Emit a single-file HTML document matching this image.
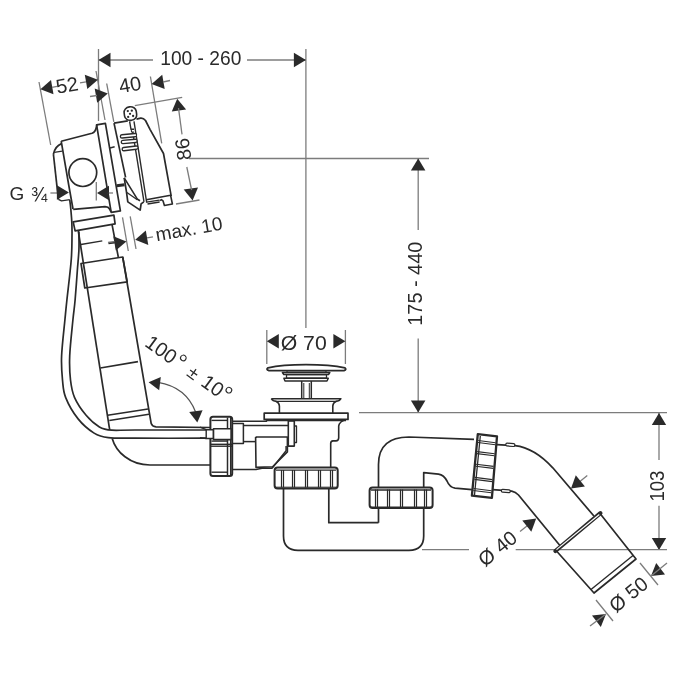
<!DOCTYPE html>
<html><head><meta charset="utf-8"><style>
html,body{margin:0;padding:0;background:#fff;width:675px;height:675px;overflow:hidden}
svg{display:block;will-change:transform}
text{font-family:"Liberation Sans",sans-serif;fill:#2a2a2a;stroke:none}
</style></head><body>
<svg width="675" height="675" viewBox="0 0 675 675">
<line x1="98.5" y1="49.0" x2="98.5" y2="121.0" stroke="#7c7c7c" stroke-width="1.3"/>
<line x1="305.9" y1="49.0" x2="305.9" y2="328.0" stroke="#7c7c7c" stroke-width="1.3"/>
<line x1="98.5" y1="60.0" x2="153.0" y2="60.0" stroke="#7c7c7c" stroke-width="1.3"/>
<line x1="247.0" y1="60.0" x2="305.9" y2="60.0" stroke="#7c7c7c" stroke-width="1.3"/>
<polygon points="98.5,60.0 110.5,52.8 110.5,67.2" fill="#2a2a2a"/>
<polygon points="305.9,60.0 293.9,67.2 293.9,52.8" fill="#2a2a2a"/>
<text x="200.8" y="57.3" font-size="20.5" text-anchor="middle" dominant-baseline="central" textLength="81" lengthAdjust="spacingAndGlyphs">100 - 260</text>
<line x1="39.0" y1="82.0" x2="50.7" y2="145.0" stroke="#7c7c7c" stroke-width="1.3"/>
<line x1="96.0" y1="71.0" x2="105.0" y2="120.0" stroke="#7c7c7c" stroke-width="1.3"/>
<line x1="106.7" y1="83.5" x2="113.8" y2="121.8" stroke="#7c7c7c" stroke-width="1.3"/>
<line x1="150.4" y1="76.5" x2="161.7" y2="143.3" stroke="#7c7c7c" stroke-width="1.3"/>
<polygon points="40.4,89.2 51.0,80.0 53.5,94.3" fill="#2a2a2a"/>
<polygon points="97.9,79.8 87.3,89.0 84.8,74.7" fill="#2a2a2a"/>
<line x1="52.0" y1="87.3" x2="57.0" y2="86.4" stroke="#7c7c7c" stroke-width="1.3"/>
<line x1="80.0" y1="82.8" x2="86.0" y2="81.8" stroke="#7c7c7c" stroke-width="1.3"/>
<text x="67.0" y="85.0" font-size="20" text-anchor="middle" dominant-baseline="central" transform="rotate(-10 67.0 85.0)">52</text>
<polygon points="107.8,93.5 97.2,102.7 94.7,88.4" fill="#2a2a2a"/>
<line x1="90.0" y1="96.5" x2="97.0" y2="95.5" stroke="#7c7c7c" stroke-width="1.3"/>
<polygon points="151.6,84.0 162.2,74.8 164.7,89.1" fill="#2a2a2a"/>
<line x1="163.0" y1="82.0" x2="170.0" y2="80.5" stroke="#7c7c7c" stroke-width="1.3"/>
<text x="130.0" y="84.5" font-size="20" text-anchor="middle" dominant-baseline="central" transform="rotate(-10 130.0 84.5)">40</text>
<line x1="134.8" y1="105.6" x2="182.2" y2="97.4" stroke="#7c7c7c" stroke-width="1.3"/>
<line x1="176.0" y1="204.0" x2="199.5" y2="200.0" stroke="#7c7c7c" stroke-width="1.3"/>
<polygon points="177.2,98.7 186.1,109.5 171.8,111.6" fill="#2a2a2a"/>
<polygon points="192.6,200.4 183.7,189.6 198.0,187.5" fill="#2a2a2a"/>
<line x1="178.5" y1="108.0" x2="182.0" y2="134.4" stroke="#7c7c7c" stroke-width="1.3"/>
<line x1="186.8" y1="167.0" x2="191.6" y2="190.0" stroke="#7c7c7c" stroke-width="1.3"/>
<text x="183.0" y="149.3" font-size="20" text-anchor="middle" dominant-baseline="central" transform="rotate(-98 183.0 149.3)">86</text>
<line x1="189.0" y1="158.5" x2="429.0" y2="158.5" stroke="#7c7c7c" stroke-width="1.3"/>
<line x1="418.2" y1="158.6" x2="418.2" y2="230.0" stroke="#7c7c7c" stroke-width="1.3"/>
<line x1="418.2" y1="338.4" x2="418.2" y2="412.4" stroke="#7c7c7c" stroke-width="1.3"/>
<polygon points="418.2,158.6 425.4,170.6 410.9,170.6" fill="#2a2a2a"/>
<polygon points="418.2,412.4 410.9,400.4 425.4,400.4" fill="#2a2a2a"/>
<text x="414.6" y="283.7" font-size="21" text-anchor="middle" dominant-baseline="central" textLength="84" lengthAdjust="spacingAndGlyphs" transform="rotate(-90 414.6 283.7)">175 - 440</text>
<line x1="359.0" y1="412.6" x2="667.0" y2="412.6" stroke="#7c7c7c" stroke-width="1.3"/>
<line x1="266.8" y1="330.0" x2="266.8" y2="364.0" stroke="#7c7c7c" stroke-width="1.3"/>
<line x1="345.4" y1="330.0" x2="345.4" y2="364.0" stroke="#7c7c7c" stroke-width="1.3"/>
<polygon points="266.8,341.3 278.8,334.1 278.8,348.6" fill="#2a2a2a"/>
<polygon points="345.4,341.3 333.4,348.6 333.4,334.1" fill="#2a2a2a"/>
<text x="303.7" y="342.3" font-size="20.5" text-anchor="middle" dominant-baseline="central" textLength="46" lengthAdjust="spacingAndGlyphs">Ø 70</text>
<line x1="659.0" y1="413.0" x2="659.0" y2="460.0" stroke="#7c7c7c" stroke-width="1.3"/>
<line x1="659.0" y1="505.7" x2="659.0" y2="550.0" stroke="#7c7c7c" stroke-width="1.3"/>
<polygon points="659.0,413.0 666.2,425.0 651.8,425.0" fill="#2a2a2a"/>
<polygon points="659.0,550.0 651.8,538.0 666.2,538.0" fill="#2a2a2a"/>
<text x="656.5" y="486.1" font-size="21" text-anchor="middle" dominant-baseline="central" textLength="31" lengthAdjust="spacingAndGlyphs" transform="rotate(-90 656.5 486.1)">103</text>
<line x1="422.0" y1="549.6" x2="469.0" y2="549.6" stroke="#7c7c7c" stroke-width="1.3"/>
<line x1="515.7" y1="549.6" x2="667.0" y2="549.6" stroke="#7c7c7c" stroke-width="1.3"/>
<line x1="575.0" y1="485.5" x2="587.3" y2="475.4" stroke="#7c7c7c" stroke-width="1.3"/>
<polygon points="571.0,488.4 575.8,475.2 584.9,486.6" fill="#2a2a2a"/>
<line x1="532.0" y1="522.0" x2="520.0" y2="531.4" stroke="#7c7c7c" stroke-width="1.3"/>
<polygon points="536.2,518.6 531.3,531.7 522.3,520.4" fill="#2a2a2a"/>
<text x="497.5" y="548.5" font-size="20" text-anchor="middle" dominant-baseline="central" transform="rotate(-39 497.5 548.5)">Ø 40</text>
<line x1="640.0" y1="563.0" x2="658.0" y2="585.0" stroke="#7c7c7c" stroke-width="1.3"/>
<line x1="596.0" y1="600.0" x2="613.0" y2="621.0" stroke="#7c7c7c" stroke-width="1.3"/>
<polygon points="651.0,576.0 656.2,563.0 665.0,574.6" fill="#2a2a2a"/>
<line x1="651.0" y1="576.0" x2="667.0" y2="563.0" stroke="#7c7c7c" stroke-width="1.3"/>
<polygon points="606.0,614.0 600.8,627.0 592.0,615.4" fill="#2a2a2a"/>
<line x1="606.0" y1="614.0" x2="590.0" y2="626.0" stroke="#7c7c7c" stroke-width="1.3"/>
<text x="628.4" y="594.5" font-size="20" text-anchor="middle" dominant-baseline="central" transform="rotate(-39 628.4 594.5)">Ø 50</text>
<text x="16.9" y="193.6" font-size="19" text-anchor="middle" dominant-baseline="central">G</text>
<text x="39.1" y="193.6" font-size="19.5" text-anchor="middle" dominant-baseline="central">¾</text>
<line x1="50.4" y1="193.0" x2="60.0" y2="193.0" stroke="#7c7c7c" stroke-width="1.3"/>
<polygon points="68.9,192.5 56.9,199.8 56.9,185.2" fill="#2a2a2a"/>
<line x1="96.3" y1="182.0" x2="96.3" y2="200.4" stroke="#7c7c7c" stroke-width="1.3"/>
<polygon points="97.0,193.0 109.0,185.8 109.0,200.2" fill="#2a2a2a"/>
<line x1="107.0" y1="193.0" x2="113.0" y2="193.0" stroke="#7c7c7c" stroke-width="1.3"/>
<line x1="122.5" y1="217.3" x2="128.3" y2="251.0" stroke="#7c7c7c" stroke-width="1.3"/>
<line x1="130.2" y1="216.4" x2="136.0" y2="249.0" stroke="#7c7c7c" stroke-width="1.3"/>
<polygon points="126.4,241.4 115.8,250.6 113.3,236.3" fill="#2a2a2a"/>
<line x1="108.0" y1="242.5" x2="115.0" y2="241.5" stroke="#7c7c7c" stroke-width="1.3"/>
<polygon points="135.2,239.8 145.8,230.6 148.3,244.9" fill="#2a2a2a"/>
<line x1="147.0" y1="237.8" x2="153.0" y2="236.8" stroke="#7c7c7c" stroke-width="1.3"/>
<text x="189.0" y="229.0" font-size="19" text-anchor="middle" dominant-baseline="central" transform="rotate(-10 189.0 229.0)">max. 10</text>
<g transform="translate(189.6,363.1) rotate(36)">
<text x="-31.0" y="5.5" font-size="20" text-anchor="middle" dominant-baseline="central">100</text>
<circle cx="-8.1" cy="-0.5" r="2.8" fill="none" stroke="#2a2a2a" stroke-width="1.1"/>
<text x="8.8" y="6.0" font-size="18" text-anchor="middle" dominant-baseline="central">±</text>
<text x="32.0" y="4.5" font-size="20" text-anchor="middle" dominant-baseline="central">10</text>
<circle cx="47.7" cy="-1.2" r="2.8" fill="none" stroke="#2a2a2a" stroke-width="1.1"/>
</g>
<path d="M53.4,154.2 Q55.2,146 61.6,143.6" fill="none" stroke="#2a2a2a" stroke-width="1.7" stroke-linejoin="round"/>
<polyline points="54.3,152.3 62.2,151.1" fill="none" stroke="#2a2a2a" stroke-width="1.3" stroke-linejoin="round"/>
<polyline points="53.4,154.2 58.4,199.3" fill="none" stroke="#2a2a2a" stroke-width="1.7" stroke-linejoin="round"/>
<polyline points="58.4,199.3 61.5,200.9 69.8,199.6" fill="none" stroke="#2a2a2a" stroke-width="1.4" stroke-linejoin="round"/>
<path d="M61.2,141.2 L92,133.3 Q95.5,132 96.4,127 L96.8,124.8" fill="none" stroke="#2a2a2a" stroke-width="1.7" stroke-linejoin="round"/>
<polyline points="61.2,141.2 68.9,186.0 73.0,209.0" fill="none" stroke="#2a2a2a" stroke-width="1.7" stroke-linejoin="round"/>
<path d="M73.2,209.3 L105,206.7 Q108.5,207 109.6,209 L111,211.8" fill="none" stroke="#2a2a2a" stroke-width="1.7" stroke-linejoin="round"/>
<circle cx="82.8" cy="172.6" r="13.9" fill="none" stroke="#2a2a2a" stroke-width="1.7"/>
<polygon points="96.6,124.8 105.4,123.4 120.4,210.9 111.2,212.3" fill="none" stroke="#2a2a2a" stroke-width="1.7" stroke-linejoin="round"/>
<polyline points="114.0,123.1 127.8,120.9" fill="none" stroke="#2a2a2a" stroke-width="1.7" stroke-linejoin="round"/>
<polyline points="114.0,123.1 125.6,177.4" fill="none" stroke="#2a2a2a" stroke-width="1.7" stroke-linejoin="round"/>
<polyline points="110.0,148.0 114.6,146.8" fill="none" stroke="#2a2a2a" stroke-width="1.5" stroke-linejoin="round"/>
<polyline points="116.7,185.7 124.5,184.7" fill="none" stroke="#2a2a2a" stroke-width="3" stroke-linejoin="round"/>
<path d="M136.5,119.1 L140.7,118.2 Q143.5,118 145.5,120.5 L150,129.3 L163.5,153.5 L171.2,196.1" fill="none" stroke="#2a2a2a" stroke-width="1.7" stroke-linejoin="round"/>
<polyline points="146.3,199.8 170.6,195.3 172.4,204.0 164.4,205.5 163.0,200.8 161.4,199.6 159.6,200.6" fill="none" stroke="#2a2a2a" stroke-width="1.6" stroke-linejoin="round"/>
<polyline points="146.5,202.1 159.4,200.2" fill="none" stroke="#2a2a2a" stroke-width="1.2" stroke-linejoin="round"/>
<polyline points="147.5,204.0 159.6,202.1" fill="none" stroke="#2a2a2a" stroke-width="1.5" stroke-linejoin="round"/>
<polyline points="132.7,132.0 144.0,201.9" fill="none" stroke="#2a2a2a" stroke-width="1.4" stroke-linejoin="round"/>
<polyline points="134.0,121.3 146.7,202.6" fill="none" stroke="#2a2a2a" stroke-width="1.4" stroke-linejoin="round"/>
<polyline points="129.6,121.3 131.0,129.3 134.0,129.3" fill="none" stroke="#2a2a2a" stroke-width="1.4" stroke-linejoin="round"/>
<polyline points="131.3,130.2 131.6,132.0 134.0,132.0" fill="none" stroke="#2a2a2a" stroke-width="1.2" stroke-linejoin="round"/>
<rect x="124.3" y="106.8" width="12.2" height="13.6" rx="6" ry="5.2" transform="rotate(-8 130.4 113.6)" fill="#fff" stroke="#2a2a2a" stroke-width="1.6"/>
<circle cx="127.8" cy="111.1" r="1.15" fill="#2a2a2a"/>
<circle cx="131.8" cy="110.7" r="1.15" fill="#2a2a2a"/>
<circle cx="130" cy="113.8" r="1.15" fill="#2a2a2a"/>
<circle cx="128.2" cy="116.9" r="1.15" fill="#2a2a2a"/>
<circle cx="133.1" cy="116" r="1.15" fill="#2a2a2a"/>
<line x1="122" y1="136.4" x2="134.9" y2="135.1" stroke="#2a2a2a" stroke-width="4.6" stroke-linecap="round"/>
<line x1="122" y1="136.4" x2="135.20000000000002" y2="135.1" stroke="#fff" stroke-width="1.9" stroke-linecap="round"/>
<line x1="122.9" y1="142" x2="135.3" y2="140.9" stroke="#2a2a2a" stroke-width="4.6" stroke-linecap="round"/>
<line x1="122.9" y1="142" x2="135.60000000000002" y2="140.9" stroke="#fff" stroke-width="1.9" stroke-linecap="round"/>
<line x1="123.8" y1="149.1" x2="136.2" y2="147.6" stroke="#2a2a2a" stroke-width="4.6" stroke-linecap="round"/>
<line x1="123.8" y1="149.1" x2="136.5" y2="147.6" stroke="#fff" stroke-width="1.9" stroke-linecap="round"/>
<polyline points="124.2,177.8 126.5,192.1 127.8,201.9 140.2,210.1 141.1,203.9 143.8,201.8" fill="none" stroke="#2a2a2a" stroke-width="1.7" stroke-linejoin="round"/>
<polyline points="124.2,177.8 137.5,199.3 140.0,200.8" fill="none" stroke="#2a2a2a" stroke-width="1.6" stroke-linejoin="round"/>
<polyline points="126.9,192.5 137.3,199.8" fill="none" stroke="#2a2a2a" stroke-width="1.4" stroke-linejoin="round"/>
<polygon points="73.2,221.9 113.9,215.1 115.1,223.8 75.1,230.9" fill="none" stroke="#2a2a2a" stroke-width="1.7" stroke-linejoin="round"/>
<polyline points="78.3,231.0 109.7,429.8" fill="none" stroke="#2a2a2a" stroke-width="1.7" stroke-linejoin="round"/>
<path d="M112.1,224.9 L118.3,257 M122.7,257 L151.2,423.6 Q152.2,426.7 156,426.9 L210,427.5" fill="none" stroke="#2a2a2a" stroke-width="1.7" stroke-linejoin="round"/>
<polygon points="81.0,263.5 122.7,257.0 127.2,281.9 84.8,288.0" fill="none" stroke="#2a2a2a" stroke-width="1.7" stroke-linejoin="round"/>
<polyline points="100.3,368.0 138.0,361.7" fill="none" stroke="#2a2a2a" stroke-width="1.7" stroke-linejoin="round"/>
<polyline points="107.6,415.3 148.0,409.0" fill="none" stroke="#2a2a2a" stroke-width="1.5" stroke-linejoin="round"/>
<polyline points="109.3,420.5 149.0,414.2" fill="none" stroke="#2a2a2a" stroke-width="1.5" stroke-linejoin="round"/>
<polyline points="80.9,244.5 102.3,240.9" fill="none" stroke="#2a2a2a" stroke-width="1.4" stroke-linejoin="round"/>
<polyline points="108.5,243.6 114.7,242.7" fill="none" stroke="#2a2a2a" stroke-width="1.4" stroke-linejoin="round"/>
<path d="M69.7,199.8 C69.9,201.3 70.5,205.3 70.8,209.0 C71.1,212.7 71.6,217.6 71.8,222.0 C72.0,226.4 72.1,229.4 72.0,235.6 C71.9,241.8 72.1,248.3 71.3,259.0 C70.5,269.7 68.0,289.8 66.9,300.0 C65.8,310.2 65.8,310.7 64.9,320.0 C64.0,329.3 62.0,346.0 61.6,356.0 C61.2,366.0 61.8,373.1 62.5,380.0 C63.2,386.9 63.1,391.1 65.7,397.6 C68.3,404.1 73.4,413.0 78.1,418.9 C82.8,424.8 89.1,430.0 94.1,433.1 C99.1,436.2 101.5,436.8 108.3,437.6 C115.1,438.5 118.7,438.1 135.0,438.2 C151.3,438.3 194.2,438.2 206.0,438.2" fill="none" stroke="#2a2a2a" stroke-width="1.7" stroke-linejoin="round"/>
<path d="M78.9,231.4 C78.9,234.6 79.2,243.7 78.9,250.3 C78.6,256.9 77.9,262.7 77.3,271.0 C76.7,279.3 75.8,291.8 75.1,300.0 C74.4,308.2 73.8,310.7 72.9,320.0 C72.0,329.3 70.1,346.0 69.7,356.0 C69.3,366.0 69.7,373.1 70.5,380.0 C71.3,386.9 72.0,391.7 74.6,397.6 C77.2,403.5 82.0,410.4 86.1,415.3 C90.2,420.2 95.1,424.4 99.4,426.9 C103.7,429.4 106.0,429.7 111.9,430.2 C117.8,430.7 119.3,430.0 135.0,430.0 C150.7,430.0 194.2,430.0 206.0,430.0" fill="none" stroke="#2a2a2a" stroke-width="1.7" stroke-linejoin="round"/>
<path d="M112.2,438.4 C116,452 130,465 150,465 L212,465" fill="none" stroke="#2a2a2a" stroke-width="1.7" stroke-linejoin="round"/>
<polyline points="200.0,427.1 206.2,429.7" fill="none" stroke="#2a2a2a" stroke-width="1.4" stroke-linejoin="round"/>
<polyline points="200.0,437.6 206.2,438.5" fill="none" stroke="#2a2a2a" stroke-width="1.4" stroke-linejoin="round"/>
<path d="M158,382.4 Q186,387 195.6,412" fill="none" stroke="#555" stroke-width="1.2" stroke-linejoin="round"/>
<polygon points="148.6,382.2 160.8,376.9 159.2,390.3" fill="#2a2a2a"/>
<polygon points="197.3,422.5 189.2,411.9 202.6,410.3" fill="#2a2a2a"/>
<rect x="210.4" y="416.7" width="21.8" height="59.2" rx="2.5" fill="#fff" stroke="#2a2a2a" stroke-width="2"/>
<polyline points="211.5,420.4 227.5,420.4" fill="none" stroke="#2a2a2a" stroke-width="1.4" stroke-linejoin="round"/>
<polyline points="211.5,441.1 227.5,441.1" fill="none" stroke="#2a2a2a" stroke-width="1.4" stroke-linejoin="round"/>
<polyline points="210.4,444.3 232.2,444.3" fill="none" stroke="#2a2a2a" stroke-width="1.4" stroke-linejoin="round"/>
<polyline points="210.4,446.2 232.2,446.2" fill="none" stroke="#2a2a2a" stroke-width="1.4" stroke-linejoin="round"/>
<polyline points="211.5,472.2 227.5,472.2" fill="none" stroke="#2a2a2a" stroke-width="1.4" stroke-linejoin="round"/>
<polyline points="227.5,417.5 227.5,475.0" fill="none" stroke="#2a2a2a" stroke-width="1.5" stroke-linejoin="round"/>
<polyline points="230.6,417.5 230.6,475.0" fill="none" stroke="#2a2a2a" stroke-width="1.3" stroke-linejoin="round"/>
<polygon points="206.2,429.7 213.5,429.7 213.5,438.5 206.2,438.5" fill="#fff" stroke="#2a2a2a" stroke-width="1.4" stroke-linejoin="round"/>
<polygon points="213.5,428.7 231.1,428.7 231.1,439.6 213.5,439.6" fill="#fff" stroke="#2a2a2a" stroke-width="1.6" stroke-linejoin="round"/>
<polyline points="232.2,423.6 243.4,423.6 243.4,443.4 232.2,443.4" fill="none" stroke="#2a2a2a" stroke-width="1.5" stroke-linejoin="round"/>
<polyline points="232.2,421.2 266.5,421.2 266.5,419.5" fill="none" stroke="#2a2a2a" stroke-width="1.5" stroke-linejoin="round"/>
<polyline points="243.4,425.6 288.3,425.6" fill="none" stroke="#2a2a2a" stroke-width="1.5" stroke-linejoin="round"/>
<polyline points="243.4,441.6 255.3,441.6" fill="none" stroke="#2a2a2a" stroke-width="1.5" stroke-linejoin="round"/>
<polyline points="231.9,469.6 256.0,469.6 262.0,468.3 272.0,468.3" fill="none" stroke="#2a2a2a" stroke-width="1.5" stroke-linejoin="round"/>
<polyline points="255.6,437.0 287.4,437.0 287.4,451.9 272.6,466.7 256.0,467.4 255.6,437.0" fill="none" stroke="#2a2a2a" stroke-width="1.6" stroke-linejoin="round"/>
<polygon points="264.2,413.2 348.0,413.2 348.0,419.4 264.2,419.4" fill="none" stroke="#2a2a2a" stroke-width="1.7" stroke-linejoin="round"/>
<polyline points="266.0,420.6 346.0,420.6" fill="none" stroke="#2a2a2a" stroke-width="1.3" stroke-linejoin="round"/>
<path d="M271.3,398.7 L340.9,398.7 Q339.5,401.2 336,401.4 Q333,402.5 332.8,406 L332.8,413 M271.3,398.7 Q272.7,401.2 276.2,401.4 Q279.2,402.5 279.4,406 L279.4,413" fill="none" stroke="#2a2a2a" stroke-width="1.6" stroke-linejoin="round"/>
<polyline points="275.5,401.3 336.7,401.3" fill="none" stroke="#2a2a2a" stroke-width="1.2" stroke-linejoin="round"/>
<polyline points="301.7,381.0 301.7,398.7" fill="none" stroke="#2a2a2a" stroke-width="1.5" stroke-linejoin="round"/>
<polyline points="311.3,381.0 311.3,398.7" fill="none" stroke="#2a2a2a" stroke-width="1.5" stroke-linejoin="round"/>
<polyline points="303.8,383.0 303.8,398.0" fill="none" stroke="#2a2a2a" stroke-width="1" stroke-linejoin="round"/>
<polyline points="309.3,383.0 309.3,398.0" fill="none" stroke="#2a2a2a" stroke-width="1" stroke-linejoin="round"/>
<polygon points="283.9,378.2 328.3,378.2 327.0,381.0 285.0,381.0" fill="none" stroke="#2a2a2a" stroke-width="1.5" stroke-linejoin="round"/>
<polygon points="286.5,374.6 326.5,374.6 326.5,378.2 286.5,378.2" fill="none" stroke="#2a2a2a" stroke-width="1.3" stroke-linejoin="round"/>
<polygon points="282.4,372.5 329.8,372.5 328.5,374.6 283.8,374.6" fill="none" stroke="#2a2a2a" stroke-width="1.5" stroke-linejoin="round"/>
<polygon points="287.0,370.6 326.0,370.6 326.0,372.5 287.0,372.5" fill="none" stroke="#2a2a2a" stroke-width="1.2" stroke-linejoin="round"/>
<path d="M269,370.6 L344,370.6 Q347,369.5 345,367.8 Q330,364.6 306,364.6 Q282,364.6 268,367.8 Q265.5,369.5 269,370.6 Z" fill="none" stroke="#2a2a2a" stroke-width="1.7" stroke-linejoin="round"/>
<path d="M344.5,420 Q340.5,421.5 339.3,424 L338.7,426 L338.7,438 Q338.5,440.9 336,440.9 L333,440.9 Q330.7,441 330.7,443.5 L330.7,467.5" fill="none" stroke="#2a2a2a" stroke-width="1.6" stroke-linejoin="round"/>
<polygon points="288.3,420.9 294.3,420.9 294.3,446.1 288.3,446.1" fill="none" stroke="#2a2a2a" stroke-width="1.6" stroke-linejoin="round"/>
<polyline points="294.3,426.0 296.5,426.0 296.5,442.5 294.3,442.5" fill="none" stroke="#2a2a2a" stroke-width="1.3" stroke-linejoin="round"/>
<polyline points="256.5,438.0 256.5,437.0" fill="none" stroke="#2a2a2a" stroke-width="1" stroke-linejoin="round"/>
<polyline points="286.1,446.0 286.1,450.7 271.9,468.5" fill="none" stroke="#2a2a2a" stroke-width="1.5" stroke-linejoin="round"/>
<rect x="274.6" y="467.6" width="63.1" height="20.8" rx="3" fill="#fff" stroke="#2a2a2a" stroke-width="2"/>
<polyline points="276.0,470.2 336.0,470.2" fill="none" stroke="#2a2a2a" stroke-width="1.3" stroke-linejoin="round"/>
<polyline points="281.5,470.0 281.5,487.5" fill="none" stroke="#2a2a2a" stroke-width="1.2" stroke-linejoin="round"/>
<polyline points="283.5,470.0 283.5,487.5" fill="none" stroke="#2a2a2a" stroke-width="1.2" stroke-linejoin="round"/>
<polyline points="292.5,470.0 292.5,487.5" fill="none" stroke="#2a2a2a" stroke-width="1.2" stroke-linejoin="round"/>
<polyline points="294.5,470.0 294.5,487.5" fill="none" stroke="#2a2a2a" stroke-width="1.2" stroke-linejoin="round"/>
<polyline points="305.5,470.0 305.5,487.5" fill="none" stroke="#2a2a2a" stroke-width="1.2" stroke-linejoin="round"/>
<polyline points="307.5,470.0 307.5,487.5" fill="none" stroke="#2a2a2a" stroke-width="1.2" stroke-linejoin="round"/>
<polyline points="318.5,470.0 318.5,487.5" fill="none" stroke="#2a2a2a" stroke-width="1.2" stroke-linejoin="round"/>
<polyline points="320.5,470.0 320.5,487.5" fill="none" stroke="#2a2a2a" stroke-width="1.2" stroke-linejoin="round"/>
<polyline points="330.5,470.0 330.5,487.5" fill="none" stroke="#2a2a2a" stroke-width="1.2" stroke-linejoin="round"/>
<polyline points="332.5,470.0 332.5,487.5" fill="none" stroke="#2a2a2a" stroke-width="1.2" stroke-linejoin="round"/>
<polyline points="276.0,487.2 336.5,487.2" fill="none" stroke="#2a2a2a" stroke-width="1.0" stroke-linejoin="round"/>
<path d="M283.5,488.4 L283.5,536 Q283.5,550.3 298,550.3 L409,550.3 Q423.7,550.3 423.7,536 L423.7,508" fill="none" stroke="#2a2a2a" stroke-width="1.7" stroke-linejoin="round"/>
<polyline points="328.8,488.4 328.8,522.7 378.5,522.7" fill="none" stroke="#2a2a2a" stroke-width="1.7" stroke-linejoin="round"/>
<path d="M378.5,522.7 L378.5,464.4 Q378.5,437 408.9,437 L474,439.3" fill="none" stroke="#2a2a2a" stroke-width="1.7" stroke-linejoin="round"/>
<path d="M423.7,487.4 L423.7,472.6 L438.5,474.1 Q444,475 447,481 Q449.6,487.4 455,488.1 L471.9,489.6" fill="none" stroke="#2a2a2a" stroke-width="1.7" stroke-linejoin="round"/>
<rect x="369.6" y="487.4" width="63" height="20.7" rx="3" fill="#fff" stroke="#2a2a2a" stroke-width="2"/>
<polyline points="371.0,490.0 431.0,490.0" fill="none" stroke="#2a2a2a" stroke-width="1.3" stroke-linejoin="round"/>
<polyline points="375.5,489.5 375.5,507.5" fill="none" stroke="#2a2a2a" stroke-width="1.2" stroke-linejoin="round"/>
<polyline points="377.5,489.5 377.5,507.5" fill="none" stroke="#2a2a2a" stroke-width="1.2" stroke-linejoin="round"/>
<polyline points="387.5,489.5 387.5,507.5" fill="none" stroke="#2a2a2a" stroke-width="1.2" stroke-linejoin="round"/>
<polyline points="389.5,489.5 389.5,507.5" fill="none" stroke="#2a2a2a" stroke-width="1.2" stroke-linejoin="round"/>
<polyline points="400.5,489.5 400.5,507.5" fill="none" stroke="#2a2a2a" stroke-width="1.2" stroke-linejoin="round"/>
<polyline points="402.5,489.5 402.5,507.5" fill="none" stroke="#2a2a2a" stroke-width="1.2" stroke-linejoin="round"/>
<polyline points="414.5,489.5 414.5,507.5" fill="none" stroke="#2a2a2a" stroke-width="1.2" stroke-linejoin="round"/>
<polyline points="416.5,489.5 416.5,507.5" fill="none" stroke="#2a2a2a" stroke-width="1.2" stroke-linejoin="round"/>
<polyline points="424.5,489.5 424.5,507.5" fill="none" stroke="#2a2a2a" stroke-width="1.2" stroke-linejoin="round"/>
<polyline points="426.5,489.5 426.5,507.5" fill="none" stroke="#2a2a2a" stroke-width="1.2" stroke-linejoin="round"/>
<polyline points="371.0,507.0 431.0,507.0" fill="none" stroke="#2a2a2a" stroke-width="1.0" stroke-linejoin="round"/>
<polygon points="477.8,434.1 497.0,436.3 491.9,497.8 471.9,495.6" fill="none" stroke="#2a2a2a" stroke-width="2.3" stroke-linejoin="round"/>
<polyline points="478.2,440.5 495.5,442.7" fill="none" stroke="#2a2a2a" stroke-width="1.1" stroke-linejoin="round"/>
<polyline points="478.0,442.5 495.3,444.7" fill="none" stroke="#2a2a2a" stroke-width="1.1" stroke-linejoin="round"/>
<polyline points="477.1,451.6 494.6,453.8" fill="none" stroke="#2a2a2a" stroke-width="1.1" stroke-linejoin="round"/>
<polyline points="476.9,453.6 494.4,455.8" fill="none" stroke="#2a2a2a" stroke-width="1.1" stroke-linejoin="round"/>
<polyline points="475.9,464.2 493.5,466.4" fill="none" stroke="#2a2a2a" stroke-width="1.1" stroke-linejoin="round"/>
<polyline points="475.7,466.2 493.3,468.4" fill="none" stroke="#2a2a2a" stroke-width="1.1" stroke-linejoin="round"/>
<polyline points="474.7,477.4 492.4,479.6" fill="none" stroke="#2a2a2a" stroke-width="1.1" stroke-linejoin="round"/>
<polyline points="474.5,479.4 492.2,481.6" fill="none" stroke="#2a2a2a" stroke-width="1.1" stroke-linejoin="round"/>
<polyline points="473.6,488.5 491.5,490.7" fill="none" stroke="#2a2a2a" stroke-width="1.1" stroke-linejoin="round"/>
<polyline points="473.4,490.5 491.3,492.7" fill="none" stroke="#2a2a2a" stroke-width="1.1" stroke-linejoin="round"/>
<polyline points="480.3,436.0 474.5,495.0" fill="none" stroke="#2a2a2a" stroke-width="1.3" stroke-linejoin="round"/>
<path d="M497,444.6 L515,445.6 C527,447 541,455 552.8,467.8 L593.9,516" fill="none" stroke="#2a2a2a" stroke-width="1.7" stroke-linejoin="round"/>
<path d="M492.6,489.6 L511.7,491.1 C514.5,491.8 516.5,493 518.5,495 L559.9,545.5" fill="none" stroke="#2a2a2a" stroke-width="1.7" stroke-linejoin="round"/>
<rect x="505.8" y="443.4" width="9" height="2.8" rx="1.2" transform="rotate(5 510 444.8)" fill="#fff" stroke="#2a2a2a" stroke-width="1.2"/>
<rect x="501.4" y="489.6" width="8.8" height="2.8" rx="1.2" transform="rotate(5 505.8 491)" fill="#fff" stroke="#2a2a2a" stroke-width="1.2"/>
<line x1="555.4" y1="551" x2="600.4" y2="513.1" stroke="#2a2a2a" stroke-width="4.2" stroke-linecap="round"/>
<polyline points="556.5,549.6 599.3,514.5" fill="none" stroke="#fff" stroke-width="1.2" stroke-linejoin="round"/>
<polyline points="556.5,551.0 594.0,593.0 636.0,559.0 600.4,514.0" fill="none" stroke="#2a2a2a" stroke-width="1.7" stroke-linejoin="round"/>
<polyline points="591.0,589.5 633.0,555.5" fill="none" stroke="#2a2a2a" stroke-width="1.4" stroke-linejoin="round"/>
</svg></body></html>
